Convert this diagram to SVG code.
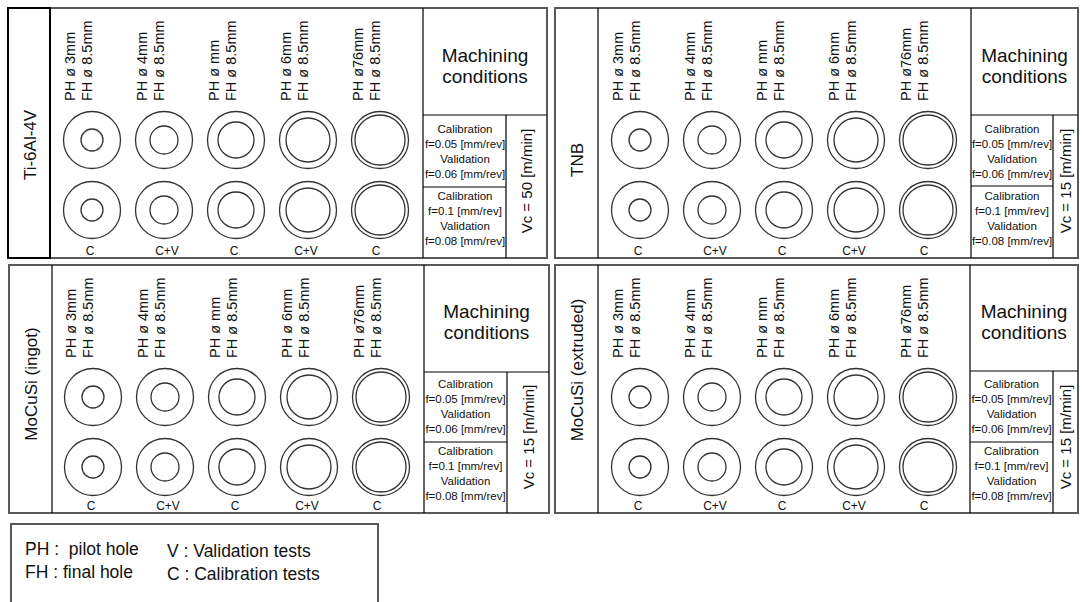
<svg xmlns="http://www.w3.org/2000/svg" width="1083" height="602" viewBox="0 0 1083 602">
<style>
.bg{fill:#fff}
.frame{fill:none;stroke:#595959;stroke-width:2}
.lbox{fill:none;stroke:#000;stroke-width:2}
.dv{stroke:#000;stroke-width:1.2;fill:none}
.o,.i{fill:none;stroke:#333;stroke-width:1.3}
text{font-family:"Liberation Sans",Arial,sans-serif;fill:#111}
.lab{font-size:14.5px}
.mat{font-size:17px;text-anchor:middle}
.mc{font-size:19px;text-anchor:middle}
.fd{font-size:11.5px;text-anchor:middle}
.vc{font-size:15px;text-anchor:middle}
.cl{font-size:12px;text-anchor:middle}
.leg{font-size:17.5px}
</style>
<rect class="bg" x="0" y="0" width="1083" height="602"/>

<!-- Panel TL: Ti-6Al-4V -->
<g id="panel-ti64">
<rect class="frame" x="8" y="8" width="539" height="250"/>
<rect class="lbox" x="8" y="8" width="42" height="250"/>
<path class="dv" d="M423 8V258M423 115H547M506 115V258M423 187H506"/>
<text class="mat" transform="translate(36,145) rotate(-90)">Ti-6Al-4V</text>
<g id="ti64-h1"><circle class="o" cx="92" cy="140" r="28.5"/><circle class="i" cx="92" cy="140" r="11"/><circle class="o" cx="92" cy="210" r="28.5"/><circle class="i" cx="92" cy="210" r="11"/>
<text class="lab" transform="translate(75,101) rotate(-90)">PH ø 3mm</text><text class="lab" transform="translate(92,101) rotate(-90)">FH ø 8.5mm</text><text class="cl" x="90" y="255">C</text></g>
<g id="ti64-h2"><circle class="o" cx="164" cy="140" r="28.5"/><circle class="i" cx="164" cy="140" r="14"/><circle class="o" cx="164" cy="210" r="28.5"/><circle class="i" cx="164" cy="210" r="14"/>
<text class="lab" transform="translate(147,101) rotate(-90)">PH ø 4mm</text><text class="lab" transform="translate(164,101) rotate(-90)">FH ø 8.5mm</text><text class="cl" x="167" y="255">C+V</text></g>
<g id="ti64-h3"><circle class="o" cx="236" cy="140" r="28.5"/><circle class="i" cx="236" cy="140" r="18"/><circle class="o" cx="236" cy="210" r="28.5"/><circle class="i" cx="236" cy="210" r="18"/>
<text class="lab" transform="translate(219,101) rotate(-90)">PH ø mm</text><text class="lab" transform="translate(236,101) rotate(-90)">FH ø 8.5mm</text><text class="cl" x="234" y="255">C</text></g>
<g id="ti64-h4"><circle class="o" cx="308" cy="140" r="28.5"/><circle class="i" cx="308" cy="140" r="22"/><circle class="o" cx="308" cy="210" r="28.5"/><circle class="i" cx="308" cy="210" r="22"/>
<text class="lab" transform="translate(291,101) rotate(-90)">PH ø 6mm</text><text class="lab" transform="translate(308,101) rotate(-90)">FH ø 8.5mm</text><text class="cl" x="306" y="255">C+V</text></g>
<g id="ti64-h5"><circle class="o" cx="380" cy="140" r="28.5"/><circle class="i" cx="380" cy="140" r="25"/><circle class="o" cx="380" cy="210" r="28.5"/><circle class="i" cx="380" cy="210" r="25"/>
<text class="lab" transform="translate(363,101) rotate(-90)">PH ø76mm</text><text class="lab" transform="translate(380,101) rotate(-90)">FH ø 8.5mm</text><text class="cl" x="376" y="255">C</text></g>
<g id="ti64-cond">
<text class="mc" x="485" y="62">Machining</text><text class="mc" x="485" y="83">conditions</text>
<text class="fd" x="465" y="133">Calibration</text><text class="fd" x="465" y="148">f=0.05 [mm/rev]</text><text class="fd" x="465" y="163">Validation</text><text class="fd" x="465" y="178">f=0.06 [mm/rev]</text>
<text class="fd" x="465" y="200">Calibration</text><text class="fd" x="465" y="215">f=0.1 [mm/rev]</text><text class="fd" x="465" y="230">Validation</text><text class="fd" x="465" y="245">f=0.08 [mm/rev]</text>
<text class="vc" transform="translate(532,181) rotate(-90)">Vc = 50 [m/min]</text>
</g>
</g>

<!-- Panel TR: TNB -->
<g id="panel-tnb">
<rect class="frame" x="555" y="8" width="523" height="250"/>
<path class="dv" d="M598 8V258M971 8V258M971 115H1078M1053 115V258M971 186H1053"/>
<text class="mat" transform="translate(582.5,160) rotate(-90)">TNB</text>
<g id="tnb-h1"><circle class="o" cx="640" cy="140" r="28.5"/><circle class="i" cx="640" cy="140" r="11"/><circle class="o" cx="640" cy="210" r="28.5"/><circle class="i" cx="640" cy="210" r="11"/>
<text class="lab" transform="translate(623,101) rotate(-90)">PH ø 3mm</text><text class="lab" transform="translate(640,101) rotate(-90)">FH ø 8.5mm</text><text class="cl" x="638" y="255">C</text></g>
<g id="tnb-h2"><circle class="o" cx="712" cy="140" r="28.5"/><circle class="i" cx="712" cy="140" r="14"/><circle class="o" cx="712" cy="210" r="28.5"/><circle class="i" cx="712" cy="210" r="14"/>
<text class="lab" transform="translate(695,101) rotate(-90)">PH ø 4mm</text><text class="lab" transform="translate(712,101) rotate(-90)">FH ø 8.5mm</text><text class="cl" x="715" y="255">C+V</text></g>
<g id="tnb-h3"><circle class="o" cx="784" cy="140" r="28.5"/><circle class="i" cx="784" cy="140" r="18"/><circle class="o" cx="784" cy="210" r="28.5"/><circle class="i" cx="784" cy="210" r="18"/>
<text class="lab" transform="translate(767,101) rotate(-90)">PH ø mm</text><text class="lab" transform="translate(784,101) rotate(-90)">FH ø 8.5mm</text><text class="cl" x="782" y="255">C</text></g>
<g id="tnb-h4"><circle class="o" cx="856" cy="140" r="28.5"/><circle class="i" cx="856" cy="140" r="22"/><circle class="o" cx="856" cy="210" r="28.5"/><circle class="i" cx="856" cy="210" r="22"/>
<text class="lab" transform="translate(839,101) rotate(-90)">PH ø 6mm</text><text class="lab" transform="translate(856,101) rotate(-90)">FH ø 8.5mm</text><text class="cl" x="854" y="255">C+V</text></g>
<g id="tnb-h5"><circle class="o" cx="928" cy="140" r="28.5"/><circle class="i" cx="928" cy="140" r="25"/><circle class="o" cx="928" cy="210" r="28.5"/><circle class="i" cx="928" cy="210" r="25"/>
<text class="lab" transform="translate(911,101) rotate(-90)">PH ø76mm</text><text class="lab" transform="translate(928,101) rotate(-90)">FH ø 8.5mm</text><text class="cl" x="924" y="255">C</text></g>
<g id="tnb-cond">
<text class="mc" x="1024.5" y="62">Machining</text><text class="mc" x="1024.5" y="83">conditions</text>
<text class="fd" x="1012" y="133">Calibration</text><text class="fd" x="1012" y="148">f=0.05 [mm/rev]</text><text class="fd" x="1012" y="163">Validation</text><text class="fd" x="1012" y="178">f=0.06 [mm/rev]</text>
<text class="fd" x="1012" y="200">Calibration</text><text class="fd" x="1012" y="215">f=0.1 [mm/rev]</text><text class="fd" x="1012" y="230">Validation</text><text class="fd" x="1012" y="245">f=0.08 [mm/rev]</text>
<text class="vc" transform="translate(1071,181) rotate(-90)">Vc = 15 [m/min]</text>
</g>
</g>

<!-- Panel BL: MoCuSi (ingot) -->
<g id="panel-ingot">
<rect class="frame" x="9" y="265" width="540" height="248"/>
<path class="dv" d="M52 265V513M424 265V513M424 372H549M507 372V513M424 442H507"/>
<text class="mat" transform="translate(36.5,384) rotate(-90)">MoCuSi (ingot)</text>
<g id="ingot-h1"><circle class="o" cx="93" cy="397" r="28.5"/><circle class="i" cx="93" cy="397" r="11"/><circle class="o" cx="93" cy="467" r="28.5"/><circle class="i" cx="93" cy="467" r="11"/>
<text class="lab" transform="translate(76,358) rotate(-90)">PH ø 3mm</text><text class="lab" transform="translate(93,358) rotate(-90)">FH ø 8.5mm</text><text class="cl" x="91" y="510">C</text></g>
<g id="ingot-h2"><circle class="o" cx="165" cy="397" r="28.5"/><circle class="i" cx="165" cy="397" r="14"/><circle class="o" cx="165" cy="467" r="28.5"/><circle class="i" cx="165" cy="467" r="14"/>
<text class="lab" transform="translate(148,358) rotate(-90)">PH ø 4mm</text><text class="lab" transform="translate(165,358) rotate(-90)">FH ø 8.5mm</text><text class="cl" x="168" y="510">C+V</text></g>
<g id="ingot-h3"><circle class="o" cx="237" cy="397" r="28.5"/><circle class="i" cx="237" cy="397" r="18"/><circle class="o" cx="237" cy="467" r="28.5"/><circle class="i" cx="237" cy="467" r="18"/>
<text class="lab" transform="translate(220,358) rotate(-90)">PH ø mm</text><text class="lab" transform="translate(237,358) rotate(-90)">FH ø 8.5mm</text><text class="cl" x="235" y="510">C</text></g>
<g id="ingot-h4"><circle class="o" cx="309" cy="397" r="28.5"/><circle class="i" cx="309" cy="397" r="22"/><circle class="o" cx="309" cy="467" r="28.5"/><circle class="i" cx="309" cy="467" r="22"/>
<text class="lab" transform="translate(292,358) rotate(-90)">PH ø 6mm</text><text class="lab" transform="translate(309,358) rotate(-90)">FH ø 8.5mm</text><text class="cl" x="307" y="510">C+V</text></g>
<g id="ingot-h5"><circle class="o" cx="381" cy="397" r="28.5"/><circle class="i" cx="381" cy="397" r="25"/><circle class="o" cx="381" cy="467" r="28.5"/><circle class="i" cx="381" cy="467" r="25"/>
<text class="lab" transform="translate(364,358) rotate(-90)">PH ø76mm</text><text class="lab" transform="translate(381,358) rotate(-90)">FH ø 8.5mm</text><text class="cl" x="377" y="510">C</text></g>
<g id="ingot-cond">
<text class="mc" x="486.5" y="318">Machining</text><text class="mc" x="486.5" y="339">conditions</text>
<text class="fd" x="465.5" y="388">Calibration</text><text class="fd" x="465.5" y="403">f=0.05 [mm/rev]</text><text class="fd" x="465.5" y="418">Validation</text><text class="fd" x="465.5" y="433">f=0.06 [mm/rev]</text>
<text class="fd" x="465.5" y="455">Calibration</text><text class="fd" x="465.5" y="470">f=0.1 [mm/rev]</text><text class="fd" x="465.5" y="485">Validation</text><text class="fd" x="465.5" y="500">f=0.08 [mm/rev]</text>
<text class="vc" transform="translate(533.5,437) rotate(-90)">Vc = 15 [m/min]</text>
</g>
</g>

<!-- Panel BR: MoCuSi (extruded) -->
<g id="panel-extruded">
<rect class="frame" x="555" y="265" width="523" height="248"/>
<path class="dv" d="M598 265V513M970 265V513M970 371H1078M1053 371V513M970 442H1053"/>
<text class="mat" transform="translate(582.5,370) rotate(-90)">MoCuSi (extruded)</text>
<g id="extruded-h1"><circle class="o" cx="640" cy="397" r="28.5"/><circle class="i" cx="640" cy="397" r="11"/><circle class="o" cx="640" cy="467" r="28.5"/><circle class="i" cx="640" cy="467" r="11"/>
<text class="lab" transform="translate(623,358) rotate(-90)">PH ø 3mm</text><text class="lab" transform="translate(640,358) rotate(-90)">FH ø 8.5mm</text><text class="cl" x="638" y="510">C</text></g>
<g id="extruded-h2"><circle class="o" cx="712" cy="397" r="28.5"/><circle class="i" cx="712" cy="397" r="14"/><circle class="o" cx="712" cy="467" r="28.5"/><circle class="i" cx="712" cy="467" r="14"/>
<text class="lab" transform="translate(695,358) rotate(-90)">PH ø 4mm</text><text class="lab" transform="translate(712,358) rotate(-90)">FH ø 8.5mm</text><text class="cl" x="715" y="510">C+V</text></g>
<g id="extruded-h3"><circle class="o" cx="784" cy="397" r="28.5"/><circle class="i" cx="784" cy="397" r="18"/><circle class="o" cx="784" cy="467" r="28.5"/><circle class="i" cx="784" cy="467" r="18"/>
<text class="lab" transform="translate(767,358) rotate(-90)">PH ø mm</text><text class="lab" transform="translate(784,358) rotate(-90)">FH ø 8.5mm</text><text class="cl" x="782" y="510">C</text></g>
<g id="extruded-h4"><circle class="o" cx="856" cy="397" r="28.5"/><circle class="i" cx="856" cy="397" r="22"/><circle class="o" cx="856" cy="467" r="28.5"/><circle class="i" cx="856" cy="467" r="22"/>
<text class="lab" transform="translate(839,358) rotate(-90)">PH ø 6mm</text><text class="lab" transform="translate(856,358) rotate(-90)">FH ø 8.5mm</text><text class="cl" x="854" y="510">C+V</text></g>
<g id="extruded-h5"><circle class="o" cx="928" cy="397" r="28.5"/><circle class="i" cx="928" cy="397" r="25"/><circle class="o" cx="928" cy="467" r="28.5"/><circle class="i" cx="928" cy="467" r="25"/>
<text class="lab" transform="translate(911,358) rotate(-90)">PH ø76mm</text><text class="lab" transform="translate(928,358) rotate(-90)">FH ø 8.5mm</text><text class="cl" x="924" y="510">C</text></g>
<g id="extruded-cond">
<text class="mc" x="1024" y="318">Machining</text><text class="mc" x="1024" y="339">conditions</text>
<text class="fd" x="1011.5" y="388">Calibration</text><text class="fd" x="1011.5" y="403">f=0.05 [mm/rev]</text><text class="fd" x="1011.5" y="418">Validation</text><text class="fd" x="1011.5" y="433">f=0.06 [mm/rev]</text>
<text class="fd" x="1011.5" y="455">Calibration</text><text class="fd" x="1011.5" y="470">f=0.1 [mm/rev]</text><text class="fd" x="1011.5" y="485">Validation</text><text class="fd" x="1011.5" y="500">f=0.08 [mm/rev]</text>
<text class="vc" transform="translate(1071,437) rotate(-90)">Vc = 15 [m/min]</text>
</g>
</g>

<!-- Legend -->
<g id="legend">
<rect class="frame" x="11" y="524" width="367" height="84"/>
<text class="leg" x="25" y="555" xml:space="preserve">PH :  pilot hole</text>
<text class="leg" x="25" y="578">FH : final hole</text>
<text class="leg" x="167" y="557">V : Validation tests</text>
<text class="leg" x="167" y="580">C : Calibration tests</text>
</g>
</svg>
